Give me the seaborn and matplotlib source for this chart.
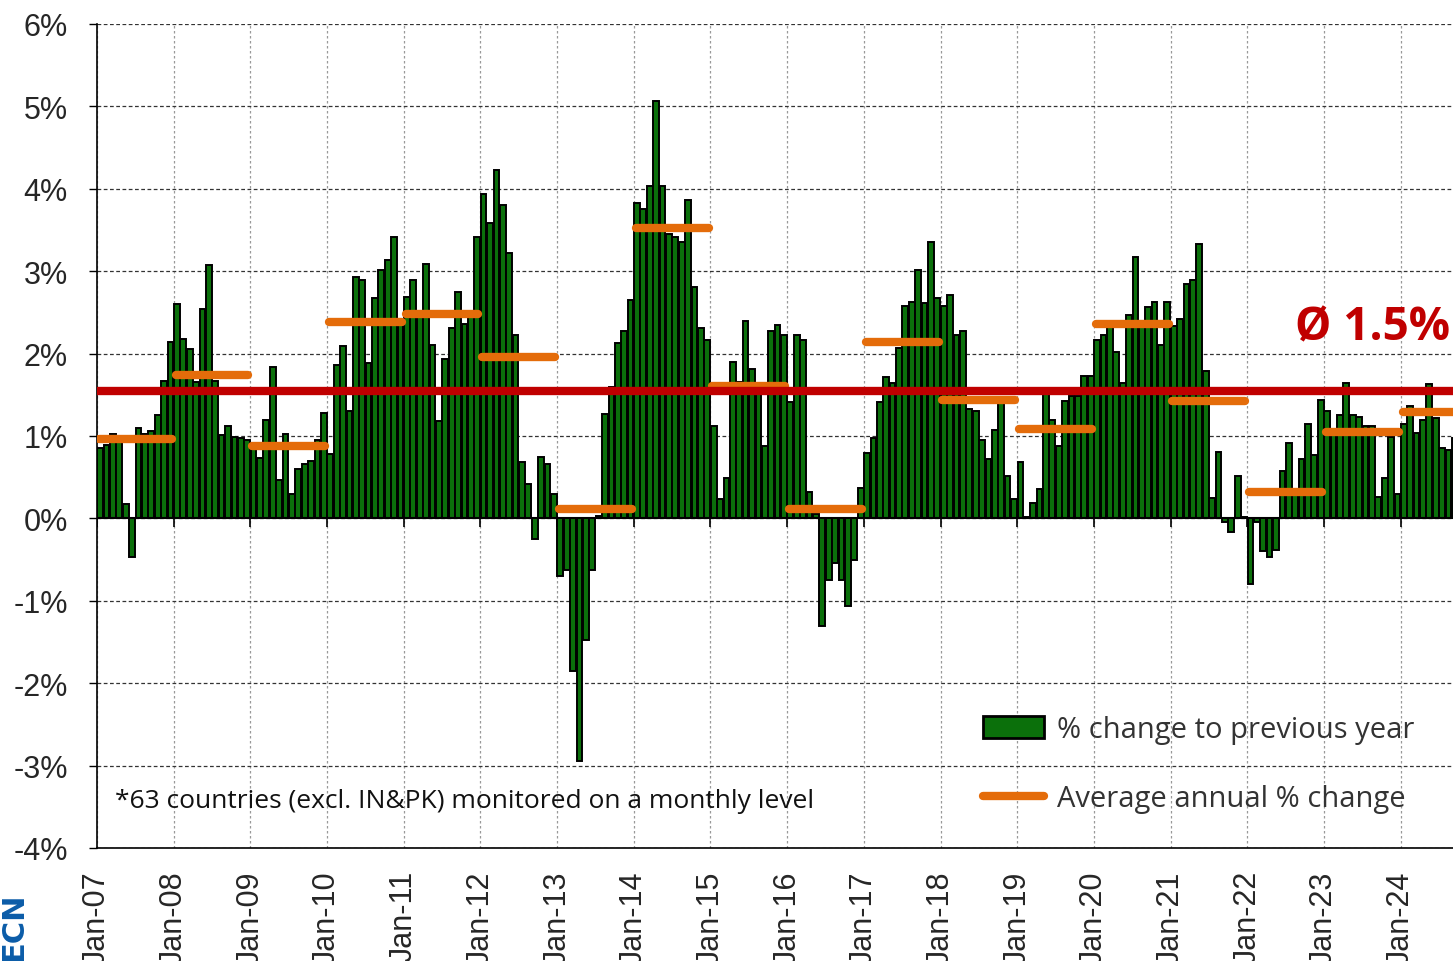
import numpy as np
import pandas as pd
import matplotlib
matplotlib.use("Agg")
import matplotlib.pyplot as plt
from matplotlib.patches import Patch
from matplotlib.lines import Line2D
import seaborn as sns

# Monatliche Veränderung zum Vorjahr in % (Jan-07 bis Sep-24)
yoy_2007 = [0.86, 0.89, 1.02, 0.95, 0.17, -0.47, 1.10, 1.03, 1.06, 1.26, 1.67, 2.14]
yoy_2008 = [2.60, 2.18, 2.06, 1.65, 2.54, 3.08, 1.67, 1.01, 1.12, 0.99, 0.97, 0.95]
yoy_2009 = [0.90, 0.73, 1.19, 1.84, 0.46, 1.02, 0.30, 0.60, 0.66, 0.70, 0.95, 1.28]
yoy_2010 = [0.78, 1.86, 2.09, 1.30, 2.93, 2.89, 1.89, 2.67, 3.02, 3.13, 3.42, 2.38]
yoy_2011 = [2.69, 2.89, 2.45, 3.09, 2.10, 1.18, 1.94, 2.31, 2.75, 2.36, 2.44, 3.41]
yoy_2012 = [3.94, 3.59, 4.23, 3.80, 3.22, 2.22, 0.69, 0.42, -0.25, 0.75, 0.66, 0.30]
yoy_2013 = [-0.70, -0.63, -1.85, -2.94, -1.48, -0.63, 0.03, 1.27, 1.60, 2.13, 2.27, 2.65]
yoy_2014 = [3.83, 3.76, 4.04, 5.07, 4.04, 3.45, 3.42, 3.36, 3.86, 2.81, 2.31, 2.16]
yoy_2015 = [1.12, 0.24, 0.49, 1.90, 1.65, 2.39, 1.81, 1.60, 0.88, 2.27, 2.35, 2.22]
yoy_2016 = [1.41, 2.22, 2.16, 0.32, 0.05, -1.30, -0.75, -0.54, -0.75, -1.06, -0.50, 0.37]
yoy_2017 = [0.79, 0.98, 1.41, 1.72, 1.64, 2.07, 2.58, 2.63, 3.02, 2.62, 3.36, 2.67]
yoy_2018 = [2.58, 2.71, 2.23, 2.28, 1.33, 1.30, 0.95, 0.72, 1.07, 1.40, 0.52, 0.24]
yoy_2019 = [0.69, 0.02, 0.19, 0.36, 1.58, 1.20, 0.88, 1.42, 1.49, 1.49, 1.73, 1.73]
yoy_2020 = [2.16, 2.22, 2.32, 2.02, 1.64, 2.47, 3.17, 2.40, 2.56, 2.63, 2.10, 2.63]
yoy_2021 = [2.34, 2.42, 2.85, 2.89, 3.33, 1.79, 0.25, 0.81, -0.04, -0.17, 0.51, 0.02]
yoy_2022 = [-0.80, -0.04, -0.39, -0.47, -0.38, 0.58, 0.91, 0.30, 0.72, 1.14, 0.77, 1.44]
yoy_2023 = [1.30, 1.08, 1.25, 1.64, 1.26, 1.23, 1.12, 1.12, 0.26, 0.49, 0.99, 0.30]
yoy_2024 = [1.15, 1.37, 1.04, 1.19, 1.63, 1.22, 0.86, 0.83, 0.97]

# Jahresdurchschnitt in %
years = list(range(2007, 2025))
annual_avg = [0.96, 1.74, 0.88, 2.38, 2.48, 1.96, 0.11, 3.52, 1.61,
              0.11, 2.14, 1.44, 1.09, 2.36, 1.42, 0.32, 1.05, 1.29]
overall_avg = 1.55

tick_labels = ["Jan-%02d" % (y % 100) for y in years]

# Farben
green = "#0B700B"
orange = "#E46C0A"
red = "#C00000"

all_yoy = (yoy_2007 + yoy_2008 + yoy_2009 + yoy_2010 + yoy_2011 + yoy_2012 +
           yoy_2013 + yoy_2014 + yoy_2015 + yoy_2016 + yoy_2017 + yoy_2018 +
           yoy_2019 + yoy_2020 + yoy_2021 + yoy_2022 + yoy_2023 + yoy_2024)
df = pd.DataFrame({"month": np.arange(len(all_yoy)), "yoy": all_yoy})

sns.set_style("white")
plt.rcParams["font.family"] = ["Liberation Sans", "DejaVu Sans"]

fig = plt.figure(figsize=(14.53, 9.62), dpi=100)
ax = fig.add_axes([97 / 1453, 1 - 849 / 962, 1 - 97 / 1453, (849 - 25) / 962])

sns.barplot(data=df, x="month", y="yoy", color=green, saturation=1,
            edgecolor="black", linewidth=1.4, width=0.9, ax=ax, zorder=2)

# Jahresdurchschnitte als orange Balken
jan_pos = np.arange(len(years)) * 12 - 0.5
avg_lines = ax.hlines(annual_avg, jan_pos + 0.3, jan_pos + 11.7, colors=orange,
                      linewidth=6, zorder=3)
avg_lines.set_capstyle("round")

# Gesamtdurchschnitt
ax.axhline(overall_avg, color=red, linewidth=6, zorder=4)
ax.axhline(0, color="black", linewidth=1.5, zorder=3)
ax.vlines(jan_pos, -0.1, 0, colors="black", linewidth=1.2, zorder=3)

ax.set_ylim(-4, 6)
ax.set_xlim(-0.5, 211.7)
ax.set_yticks(range(-4, 7))
ax.set_yticklabels(["%d%%" % v for v in range(-4, 7)])
ax.set_xticks(jan_pos)
ax.set_xticklabels(tick_labels, rotation=90)
ax.set_xlabel("")
ax.set_ylabel("")

ax.tick_params(axis="y", labelsize=22, length=6, width=1, pad=15, color="black", left=True)
ax.tick_params(axis="x", labelsize=22, length=0, pad=16)

ax.set_axisbelow(True)
ax.yaxis.grid(True, color="#333333", linestyle=(0, (3, 2)), linewidth=0.9)
ax.xaxis.grid(True, color="#999999", linestyle=(0, (2, 2)), linewidth=0.9)

for side in ["top", "right"]:
    ax.spines[side].set_visible(False)
for side in ["left", "bottom"]:
    ax.spines[side].set_color("black")
    ax.spines[side].set_linewidth(1.2)

# Legende
handles = [Patch(facecolor=green, edgecolor="black", linewidth=2),
           Line2D([0], [0], color=orange, linewidth=6, solid_capstyle="round")]
labels = ["% change to previous year", "Average annual % change"]
fig.legend(handles, labels, loc="upper left", bbox_to_anchor=(983 / 1453, 1 - 716 / 962),
           frameon=False, borderpad=0, borderaxespad=0, handlelength=2.1,
           handleheight=0.75, handletextpad=0.45, labelspacing=1.38,
           prop={"family": "Open Sans", "size": 21}, labelcolor="#333333")

fig.text(115 / 1453, 1 - 802 / 962, "*63 countries (excl. IN&PK) monitored on a monthly level",
         fontsize=19, va="center", family="Open Sans", color="#111111")

fig.text(0.998, 1 - 328 / 962, "Ø 1.5%", ha="right", va="center", color=red,
         fontsize=33, fontweight="bold", family="Open Sans")

fig.text(14 / 1453, 1 / 962, "ECN", rotation=90, ha="center", va="bottom",
         color="#0B5CA8", fontsize=22, fontweight="bold", family="DejaVu Sans")

fig.savefig("out.png", dpi=100)
